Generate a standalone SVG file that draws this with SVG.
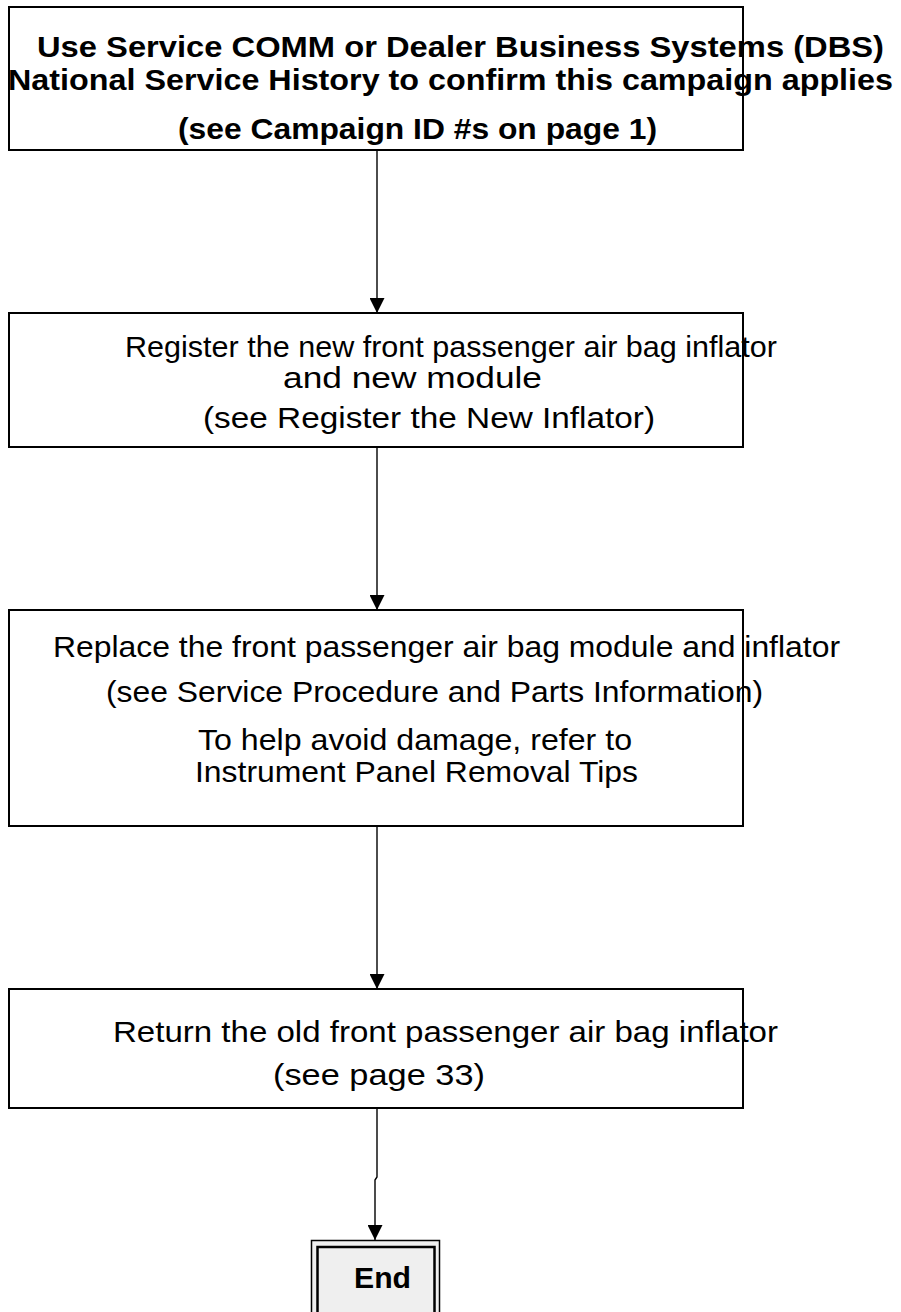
<svg xmlns="http://www.w3.org/2000/svg" width="901" height="1312" viewBox="0 0 901 1312">
<defs>
<style>
.box{fill:#fff;stroke:#000;stroke-width:2}
.t{font-family:"Liberation Sans",Arial,sans-serif;font-size:29.5px;fill:#000}
.b{font-weight:bold}
.conn{stroke:#000;stroke-width:1.4;fill:none}
</style>
<marker id="ah" markerWidth="15" markerHeight="15" refX="15" refY="7.5" orient="auto" markerUnits="userSpaceOnUse">
<path d="M0,0 L15,7.5 L0,15 Z" fill="#000"/>
</marker>
</defs>
<rect width="901" height="1312" fill="#fff"/>
<g id="connectors">
<line class="conn" x1="377" y1="150" x2="377" y2="313" marker-end="url(#ah)"/>
<line class="conn" x1="377" y1="447" x2="377" y2="610" marker-end="url(#ah)"/>
<line class="conn" x1="377" y1="826" x2="377" y2="989" marker-end="url(#ah)"/>
<path class="conn" d="M377,1108 L377,1177 L375,1180 L375,1240" marker-end="url(#ah)"/>
</g>
<g id="node1">
<rect class="box" x="9" y="7" width="734" height="143"/>
<text class="t b" x="37" y="57" textLength="847" lengthAdjust="spacingAndGlyphs">Use Service COMM or Dealer Business Systems (DBS)</text>
<text class="t b" x="8" y="90" textLength="885" lengthAdjust="spacingAndGlyphs">National Service History to confirm this campaign applies</text>
<text class="t b" x="178" y="139" textLength="479" lengthAdjust="spacingAndGlyphs">(see Campaign ID #s on page 1)</text>
</g>
<g id="node2">
<rect class="box" x="9" y="313" width="734" height="134"/>
<text class="t" x="125" y="357" textLength="652" lengthAdjust="spacingAndGlyphs">Register the new front passenger air bag inflator</text>
<text class="t" x="283" y="388" textLength="259" lengthAdjust="spacingAndGlyphs">and new module</text>
<text class="t" x="203" y="428" textLength="452" lengthAdjust="spacingAndGlyphs">(see Register the New Inflator)</text>
</g>
<g id="node3">
<rect class="box" x="9" y="610" width="734" height="216"/>
<text class="t" x="53" y="657" textLength="787" lengthAdjust="spacingAndGlyphs">Replace the front passenger air bag module and inflator</text>
<text class="t" x="106" y="702" textLength="657" lengthAdjust="spacingAndGlyphs">(see Service Procedure and Parts Information)</text>
<text class="t" x="198" y="750" textLength="434" lengthAdjust="spacingAndGlyphs">To help avoid damage, refer to</text>
<text class="t" x="195" y="782" textLength="443" lengthAdjust="spacingAndGlyphs">Instrument Panel Removal Tips</text>
</g>
<g id="node4">
<rect class="box" x="9" y="989" width="734" height="119"/>
<text class="t" x="113" y="1042" textLength="665" lengthAdjust="spacingAndGlyphs">Return the old front passenger air bag inflator</text>
<text class="t" x="273" y="1085" textLength="212" lengthAdjust="spacingAndGlyphs">(see page 33)</text>
</g>
<g id="end">
<rect x="311.5" y="1240.5" width="128" height="80" fill="#efefef" stroke="#000" stroke-width="1.5"/>
<rect x="317.5" y="1247" width="117" height="80" fill="none" stroke="#000" stroke-width="2.5"/>
<text class="t b" x="354" y="1288" textLength="57" lengthAdjust="spacingAndGlyphs">End</text>
</g>
</svg>
